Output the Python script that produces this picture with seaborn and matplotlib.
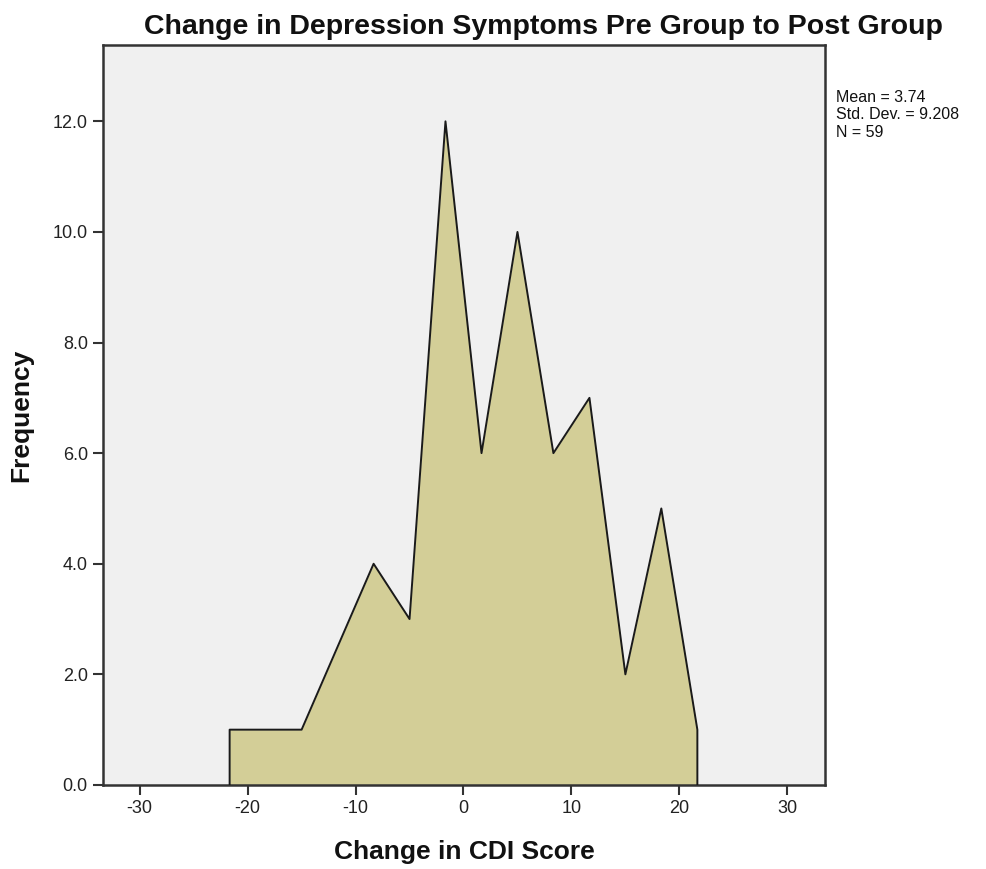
import matplotlib
matplotlib.use("Agg")
import matplotlib.pyplot as plt
from matplotlib.ticker import FormatStrFormatter
import seaborn as sns
import pandas as pd

# Frequency polygon of the change in CDI score (bin midpoints and counts)
score_change = [-21.67, -15.0, -8.33, -5.0, -1.67, 1.67, 5.0, 8.33, 11.67, 15.0, 18.33, 21.67]
frequency = [1, 1, 4, 3, 12, 6, 10, 6, 7, 2, 5, 1]

x_ticks = [-30, -20, -10, 0, 10, 20, 30]
y_ticks = [0, 2, 4, 6, 8, 10, 12]

title = "Change in Depression Symptoms Pre Group to Post Group"
x_label = "Change in CDI Score"
y_label = "Frequency"
stats_lines = ["Mean = 3.74", "Std. Dev. = 9.208", "N = 59"]

sns.set_theme(style="white")
plt.rcParams["font.family"] = ["Liberation Sans", "DejaVu Sans"]
plt.rcParams["axes.unicode_minus"] = False

fill_color = "#D3CE97"
panel_color = "#F0F0F0"

# closed outline: drop to zero at both ends
outline = pd.DataFrame({
    "x": [score_change[0]] + score_change + [score_change[-1]],
    "y": [0] + frequency + [0],
})

fig = plt.figure(figsize=(9.87, 8.69), dpi=100)
ax = fig.add_axes([0.1044, 0.0967, 0.7315, 0.8515])
ax.set_facecolor(panel_color)

ax.fill_between(outline["x"], outline["y"], 0, color=fill_color, linewidth=0, zorder=2)
sns.lineplot(data=outline, x="x", y="y", sort=False, estimator=None,
             color="#1a1a1a", linewidth=1.4, ax=ax, zorder=3)

ax.set_xlim(-33.4, 33.5)
ax.set_ylim(0, 13.38)
ax.set_xticks(x_ticks)
ax.set_yticks(y_ticks)
ax.yaxis.set_major_formatter(FormatStrFormatter("%.1f"))
ax.tick_params(axis="both", which="major", direction="out", length=7, width=1.5,
               color="#333333", labelsize=13, labelcolor="#222222", pad=4,
               bottom=True, left=True)
ax.set_xlabel("")
ax.set_ylabel("")
for side in ["left", "right", "top", "bottom"]:
    ax.spines[side].set_visible(True)
    ax.spines[side].set_color("#333333")
    ax.spines[side].set_linewidth(1.8)

fig.text(0.551, 0.969, title, ha="center", va="center", fontsize=20.5,
         fontweight="bold", color="#111111")
fig.text(0.470, 0.019, x_label, ha="center", va="center", fontsize=19,
         fontweight="bold", color="#111111")
fig.text(0.022, 0.5224, y_label, ha="center", va="center", rotation=90,
         fontsize=19, fontweight="bold", color="#111111")
fig.text(0.847, 0.897, "\n".join(stats_lines), ha="left", va="top",
         fontsize=11.5, linespacing=1.24, color="#111111")

fig.savefig("out.png", dpi=100, facecolor="white")
